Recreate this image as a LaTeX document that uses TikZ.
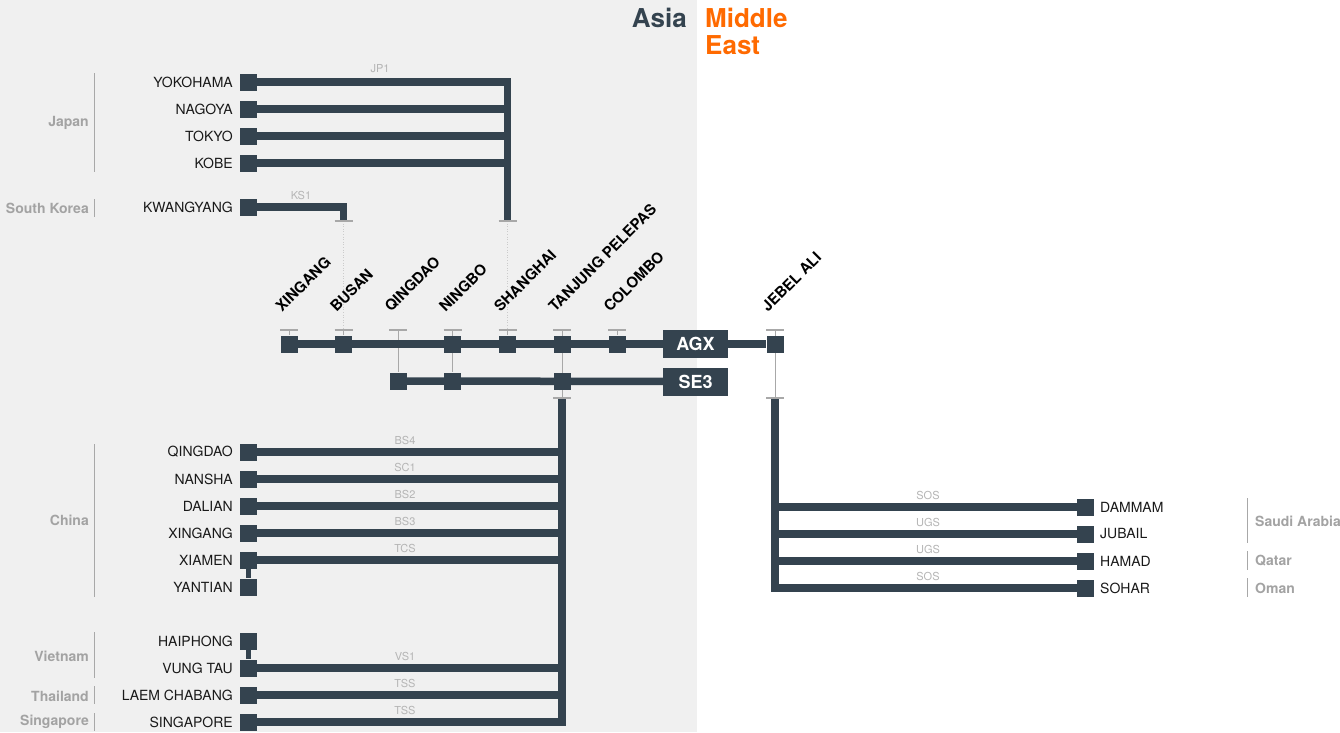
\documentclass[tikz,border=0pt]{standalone}
\usepackage{fontspec}
\setmainfont{TeX Gyre Heros}
\pgfdeclarelayer{bg}
\pgfdeclarelayer{ln}
\pgfsetlayers{bg,ln,main}
\definecolor{dk}{HTML}{34434F}
\definecolor{bgg}{HTML}{F0F0F0}
\definecolor{ctry}{HTML}{A3A3A3}
\definecolor{rtg}{HTML}{B5B5B5}
\definecolor{tk}{HTML}{A8A8A8}
\definecolor{orng}{HTML}{FF6A00}
\begin{document}
\begin{tikzpicture}[x=1pt,y=-1pt,
  sq/.style={rectangle, fill=dk, minimum size=17pt, inner sep=0pt},
  route/.style={draw=dk, line width=7.5pt, line join=miter},
  link/.style={draw=dk, line width=5pt},
  thinl/.style={draw=tk, line width=0.8pt},
  dotl/.style={draw=tk!60, line width=0.6pt, dotted},
  tickm/.style={draw=tk, line width=1.6pt},
  pname/.style={font=\fontsize{14}{14}\selectfont, text=black!90, inner sep=0pt},
  pl/.style={pname, anchor=east},
  pr/.style={pname, anchor=west},
  ctryl/.style={font=\bfseries\fontsize{14}{14}\selectfont, text=ctry, inner sep=0pt},
  rlab/.style={font=\fontsize{11}{11}\selectfont, text=rtg, inner sep=0pt},
  rot/.style={font=\bfseries\fontsize{15}{15}\selectfont, text=black, rotate=45, anchor=base west, inner sep=0pt},
  svc/.style={rectangle, fill=dk, minimum width=65pt, minimum height=28pt, inner sep=0pt, text=white, font=\bfseries\fontsize{18}{18}\selectfont},
  hdr/.style={font=\bfseries\fontsize{26}{27}\selectfont, inner sep=0pt}
]
\useasboundingbox (0,0) rectangle (1340,732);
\begin{pgfonlayer}{bg}
  \fill[bgg] (0,0) rectangle (697,732);
  \fill[white] (697,0) rectangle (1340,732);
\end{pgfonlayer}

% headers
\node[hdr, text=dk, anchor=base east] (asia) at (687,27) {Asia};
\node[hdr, text=orng, anchor=base west] (me1) at (705,27) {Middle};
\node[hdr, text=orng, anchor=base west] (me2) at (705,54) {East};

% ---------------- left ports ----------------
\foreach \n/\y/\t in {yok/82/YOKOHAMA, nag/109/NAGOYA, tok/136/TOKYO, kob/163/KOBE, kwa/207/KWANGYANG,
  cqd/452/QINGDAO, nan/479/NANSHA, dal/506/DALIAN, cxg/533/XINGANG, xia/560/XIAMEN, yan/587/YANTIAN,
  hai/641/HAIPHONG, vun/668/VUNG TAU, lae/695/LAEM CHABANG, sin/722/SINGAPORE}{
  \node[sq] (\n) at (248.5,\y) {};
  \node[pl] (\n-l) at (233,\y) {\t};
}

% ---------------- right ports ----------------
\foreach \n/\y/\t in {dam/507/DAMMAM, jub/534/JUBAIL, ham/561/HAMAD, soh/588/SOHAR}{
  \node[sq] (\n) at (1085,\y) {};
  \node[pr] (\n-l) at (1100,\y) {\t};
}

% ---------------- country labels ----------------
\node[ctryl, anchor=east] (japan) at (89,123) {Japan};
\draw[thinl] (94,73) -- (94,172);
\node[ctryl, anchor=east] (skorea) at (89,208) {South Korea};
\draw[thinl] (94,199) -- (94,217);
\node[ctryl, anchor=east] (china) at (89,520) {China};
\draw[thinl] (94,444) -- (94,597);
\node[ctryl, anchor=east] (vietnam) at (89,656) {Vietnam};
\draw[thinl] (94,632) -- (94,678);
\node[ctryl, anchor=east] (thai) at (89,696) {Thailand};
\draw[thinl] (94,686) -- (94,704);
\node[ctryl, anchor=east] (sgp) at (89,722) {Singapore};
\draw[thinl] (94,713) -- (94,731);
\node[ctryl, anchor=west] (saudi) at (1255,521) {Saudi Arabia};
\draw[thinl] (1247,498) -- (1247,543);
\node[ctryl, anchor=west] (qatar) at (1255,561) {Qatar};
\draw[thinl] (1247,551) -- (1247,570);
\node[ctryl, anchor=west] (oman) at (1255,588) {Oman};
\draw[thinl] (1247,578) -- (1247,597);

% ---------------- main line ports ----------------
\foreach \n/\x in {axg/289, abu/343.5, ani/452.5, ash/507.5, atp/562, aco/617, aje/775}{
  \node[sq] (\n) at (\x,344) {};
}
\foreach \n/\x in {sqd/398, sni/452.5, stp/562}{
  \node[sq] (\n) at (\x,381) {};
}
\node[svc] (agx) at (695.5,344) {AGX};
\node[svc] (se3) at (695.5,381.5) {SE3};

% rotated port names
\foreach \n/\x/\t in {xg/289/XINGANG, bu/343.5/BUSAN, qd/398/QINGDAO, ni/452.5/NINGBO, sh/507.5/SHANGHAI,
  tp/562/TANJUNG PELEPAS, co/617/COLOMBO, je/775/JEBEL ALI}{
  \node[rot] (r\n) at (\x-7,313) {\t};
  \coordinate (t\n) at (\x,330);
  \draw[tickm] ([xshift=-9pt]t\n) -- ([xshift=9pt]t\n);
}

% coordinates for trunks
\coordinate (jpT) at (507.5,82);
\coordinate (jpB) at (507.5,221);
\coordinate (ksT) at (343.5,207);
\coordinate (ksB) at (343.5,221);
\coordinate (cnT) at (562,398);
\coordinate (meT) at (775,398);

\begin{pgfonlayer}{ln}
  % thin connectors from ticks
  \draw[thinl] (txg) -- (axg);
  \draw[thinl] (tbu) -- (abu);
  \draw[thinl] (tqd) -- (sqd);
  \draw[thinl] (tni) -- (sni);
  \draw[thinl] (tsh) -- (ash);
  \draw[thinl] (ttp) -- (cnT);
  \draw[thinl] (tco) -- (aco);
  \draw[thinl] (tje) -- (meT);
  \draw[dotl] (ksB) -- (tbu);
  \draw[dotl] (jpB) -- (tsh);

  % main lines
  \draw[route] (axg) -- (agx);
  \draw[route] (agx) -- (aje);
  \draw[route] (sqd) -- (se3);

  % Japan
  \draw[route] (yok.center) -- (jpT) -- (jpB);
  \foreach \n in {nag,tok,kob}{ \draw[route] (\n.center) -- (\n -| jpT); }
  \draw[route] (kwa.center) -- (ksT) -- (ksB);

  % China / SE Asia
  \draw[route] (cnT) -- (sin -| cnT) -- (sin.center);
  \foreach \n in {cqd,nan,dal,cxg,xia,vun,lae}{ \draw[route] (\n.center) -- (\n -| cnT); }
  \draw[link] (xia) -- (yan);
  \draw[link] (hai) -- (vun);

  % Middle East
  \draw[route] (meT) -- (soh -| meT) -- (soh.center);
  \foreach \n in {dam,jub,ham}{ \draw[route] (\n.center) -- (\n -| meT); }
\end{pgfonlayer}

% bottom ticks of trunks
\draw[tickm] ([xshift=-9pt]jpB) -- ([xshift=9pt]jpB);
\draw[tickm] ([xshift=-9pt]ksB) -- ([xshift=9pt]ksB);
\draw[tickm] ([xshift=-9pt]cnT) -- ([xshift=9pt]cnT);
\draw[tickm] ([xshift=-9pt]meT) -- ([xshift=9pt]meT);

% route labels
\node[rlab] (ljp1) at (380,69) {JP1};
\node[rlab] (lks1) at (301,195) {KS1};
\node[rlab] (lbs4) at (405,440) {BS4};
\node[rlab] (lsc1) at (405,467) {SC1};
\node[rlab] (lbs2) at (405,494) {BS2};
\node[rlab] (lbs3) at (405,521) {BS3};
\node[rlab] (ltcs) at (405,548) {TCS};
\node[rlab] (lvs1) at (405,656) {VS1};
\node[rlab] (ltss1) at (405,683) {TSS};
\node[rlab] (ltss2) at (405,710) {TSS};
\node[rlab] (lsos1) at (928,495) {SOS};
\node[rlab] (lugs1) at (928,522) {UGS};
\node[rlab] (lugs2) at (928,549) {UGS};
\node[rlab] (lsos2) at (928,576) {SOS};
\end{tikzpicture}
\end{document}
